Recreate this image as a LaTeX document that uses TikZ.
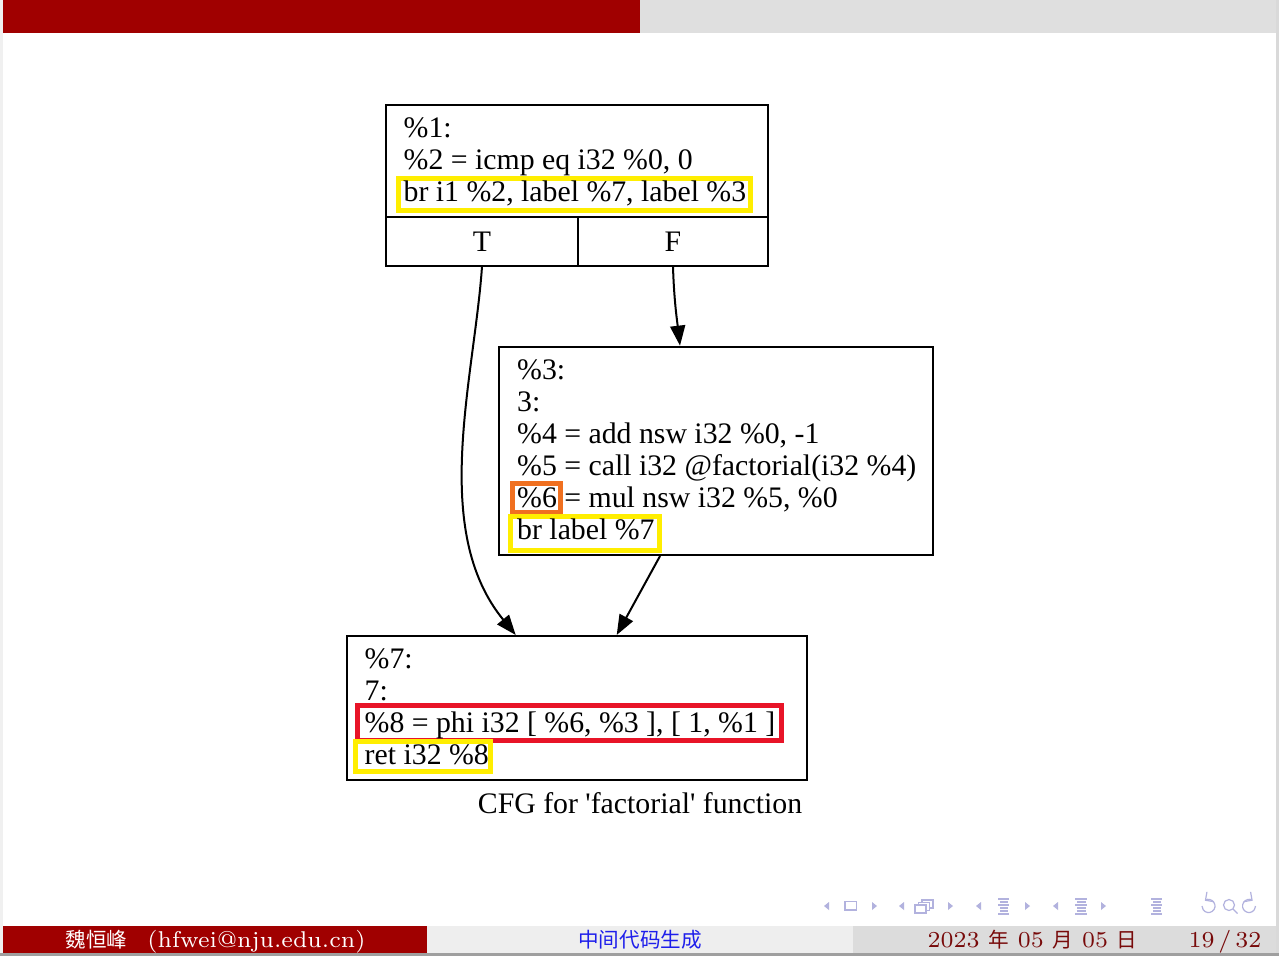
\documentclass[tikz,border=0pt]{standalone}
\usepackage{fontspec}
\usetikzlibrary{arrows.meta,calc}
\newfontfamily\gvfont{Liberation Serif}
\newfontfamily\cjkfont{Noto Sans CJK SC}[Scale=0.9]

\definecolor{barred}{RGB}{160,0,0}
\definecolor{bargray}{RGB}{223,223,223}
\definecolor{footmid}{RGB}{238,238,238}
\definecolor{footright}{RGB}{220,220,220}
\definecolor{navcol}{RGB}{178,178,222}
\definecolor{hlyellow}{RGB}{255,238,0}
\definecolor{hlorange}{RGB}{240,112,32}
\definecolor{hlred}{RGB}{232,20,40}
\definecolor{datecol}{RGB}{120,10,10}
\definecolor{titleblue}{RGB}{30,30,235}

\tikzset{
  blk/.style={draw=black, line width=0.02cm, inner sep=0pt, fill=white},
  code/.style={font=\gvfont\fontsize{8.47pt}{9pt}\selectfont, inner sep=0pt, anchor=base west},
  hl/.style={line width=0.05cm},
  edge/.style={draw=black, line width=0.02cm, -{Triangle[length=2mm,width=1.5mm]}},
  foot/.style={font=\fontsize{6.5pt}{7.5pt}\selectfont, inner sep=0pt, anchor=base},
  navline/.style={navcol, line width=0.012cm},
}

\begin{document}
\begin{tikzpicture}[x=0.01cm, y=-0.01cm]
\useasboundingbox (0,0) rectangle (1279,956);
% page and its edges
\fill[white] (0,0) rectangle (1279,956);
\fill[gray!12] (0,0) rectangle (3,956);
\fill[gray!30] (1276,0) rectangle (1279,956);
\fill[gray!75] (0,953) rectangle (1279,956);

% head bar
\fill[barred] (3,0) rectangle (640,33);
\fill[bargray] (640,0) rectangle (1276,33);

% basic blocks
\node[blk, minimum width=3.82cm, minimum height=1.123cm] (b1) at (577,161.15) {};
\node[blk, minimum width=1.92cm, minimum height=0.484cm] (tc) at (482,241.5) {};
\node[blk, minimum width=1.90cm, minimum height=0.484cm] (fc) at (673,241.5) {};
\node[blk, minimum width=4.34cm, minimum height=2.083cm] (b3) at (716,450.85) {};
\node[blk, minimum width=4.60cm, minimum height=1.44cm] (b7) at (576.7,708) {};

% highlight frames
\draw[hl, hlyellow] (398,178.5) rectangle (750,210);
\draw[hl, hlorange] (512,483) rectangle (560.5,512.5);
\draw[hl, hlyellow] (510.7,516.5) rectangle (659,550.5);
\draw[hl, hlred] (357,705.5) rectangle (781.5,740);
\draw[hl, hlyellow] (355.7,741) rectangle (490,771.7);

% block %1
\node[code] (l11) at (403,137) {\%1:};
\node[code] (l12) at (403,169) {\%2 = icmp eq i32 \%0, 0};
\node[code] (l13) at (403,201) {br i1 \%2, label \%7, label \%3};
\node[code, anchor=base] (tl) at (482,251) {T};
\node[code, anchor=base] (fl) at (673,251) {F};

% block %3
\node[code] (l31) at (516.5,379) {\%3:};
\node[code] (l32) at (516.5,411) {3:};
\node[code] (l33) at (516.5,443) {\%4 = add nsw i32 \%0, -1};
\node[code] (l34) at (516.5,475) {\%5 = call i32 @factorial(i32 \%4)};
\node[code] (l35) at (516.5,507) {\%6 = mul nsw i32 \%5, \%0};
\node[code] (l36) at (516.5,539) {br label \%7};

% block %7
\node[code] (l71) at (364,668) {\%7:};
\node[code] (l72) at (364,700) {7:};
\node[code] (l73) at (364,732) {\%8 = phi i32 [ \%6, \%3 ], [ 1, \%1 ]};
\node[code] (l74) at (364,764) {ret i32 \%8};

% caption
\node[code, anchor=base] (cap) at (640,813) {CFG for \textquotesingle factorial\textquotesingle{} function};

% control-flow edges
\draw[edge] (tc.south) .. controls (474,380) and (430,530) .. ($(b7.north)+(-61,0)$);
\draw[edge] (fc.south) .. controls (674,300) and (677,320) .. ($(b3.north)+(-36,0)$);
\draw[edge] ($(b3.south)+(-56,0)$) -- ($(b7.north)+(40,0)$);

% navigation symbols
\fill[navcol] (829,902) -- (824,906) -- (829,910) -- cycle;
\draw[navline] (845,901.5) rectangle (856.5,910);
\fill[navcol] (872,902) -- (877,906) -- (872,910) -- cycle;

\fill[navcol] (904,902) -- (899,906) -- (904,910) -- cycle;
\draw[navline, fill=white] (922,900) rectangle (933,908);
\draw[navline, fill=white] (918.5,902.5) rectangle (929.5,910.5);
\draw[navline, fill=white] (915,905) rectangle (926,913);
\fill[navcol] (948,902) -- (953,906) -- (948,910) -- cycle;

\fill[navcol] (981,902) -- (976,906) -- (981,910) -- cycle;
\foreach \yy/\xa/\xb in {899/998/1009, 902/1000/1008, 905/998/1009, 908/1000/1008, 911/1000/1008, 914/998/1009}
  \draw[navline] (\xa,\yy) -- (\xb,\yy);
\fill[navcol] (1025,902) -- (1030,906) -- (1025,910) -- cycle;

\fill[navcol] (1058,902) -- (1053,906) -- (1058,910) -- cycle;
\foreach \yy/\xa/\xb in {899/1075/1087, 902/1077/1086, 905/1075/1087, 908/1077/1086, 911/1077/1086, 914/1075/1087}
  \draw[navline] (\xa,\yy) -- (\xb,\yy);
\fill[navcol] (1101,902) -- (1106,906) -- (1101,910) -- cycle;

\foreach \yy/\xa/\xb in {899/1151/1162, 902/1153/1161, 905/1151/1162, 908/1153/1161, 911/1153/1161, 914/1151/1162}
  \draw[navline] (\xa,\yy) -- (\xb,\yy);

% back, search and forward icons
\coordinate (backc) at (1208.5,906);
\coordinate (findc) at (1229,905);
\coordinate (fwdc) at (1249,906);
\draw[navline, {Straight Barb[length=0.6mm]}-] (backc) ++(125:0.065cm) arc[start angle=125, end angle=-180, radius=0.065cm];
\draw[navline] (findc) circle[radius=0.055cm];
\draw[navline] ($(findc)+(4,4)$) -- ($(findc)+(8.5,8.5)$);
\draw[navline, {Straight Barb[length=0.6mm]}-] (fwdc) ++(55:0.065cm) arc[start angle=55, end angle=360, radius=0.065cm];

% foot line
\fill[barred] (3,926) rectangle (427,953);
\fill[footmid] (427,926) rectangle (853,953);
\fill[footright] (853,926) rectangle (1276,953);
\node[foot, anchor=base west, text=white] (author) at (65,947) {{\cjkfont 魏恒峰}\hspace{0.2cm}(hfwei@nju.edu.cn)};
\node[foot, text=titleblue] (title) at (640,947) {\cjkfont 中间代码生成};
\node[foot, anchor=base west, text=datecol] (date) at (927,947) {2023 {\cjkfont 年} 05 {\cjkfont 月} 05 {\cjkfont 日}};
\node[foot, anchor=base east, text=datecol] (page) at (1262,947) {19\,/\,32};
\end{tikzpicture}
\end{document}
